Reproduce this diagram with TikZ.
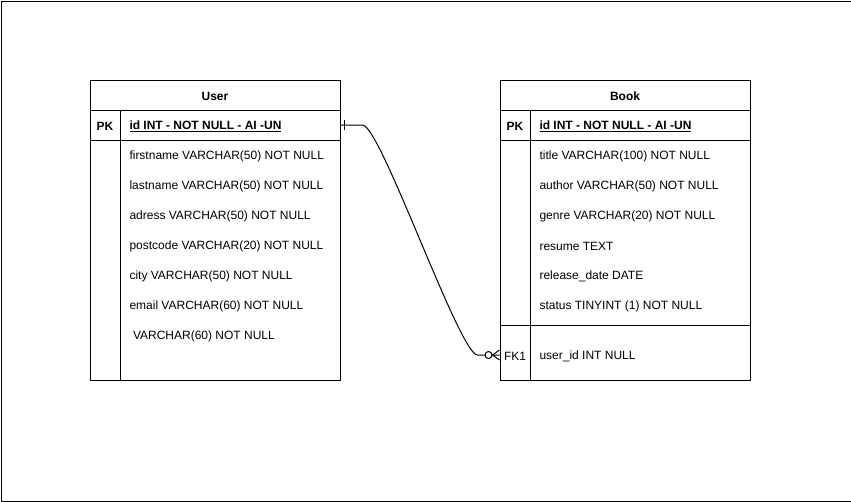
\documentclass[tikz,border=0pt]{standalone}
\usepackage{fontspec}
\setmainfont{Liberation Sans}
\usetikzlibrary{calc}
\begin{document}
\begin{tikzpicture}[x=1pt,y=-1pt,line width=1pt,
  tbl/.style={draw,minimum width=250pt,minimum height=300pt,inner sep=0pt,anchor=north west},
  hdr/.style={inner sep=0pt,yshift=-1pt,font=\fontsize{12}{14}\selectfont\bfseries},
  fld/.style={anchor=west,inner sep=0pt,yshift=-1pt,font=\fontsize{12}{14}\selectfont},
  keyt/.style={inner sep=0pt,yshift=-1pt,font=\fontsize{12}{14}\selectfont\bfseries},
  keyn/.style={inner sep=0pt,yshift=-1pt,font=\fontsize{12}{14}\selectfont},
  rowbox/.style={minimum width=250pt,minimum height=30pt,inner sep=0pt}]
\useasboundingbox (0,0) rectangle (851,501);
\node[draw,minimum width=850pt,minimum height=500pt,anchor=north west,inner sep=0pt] (frame) at (0.5,0.5) {};

% User table
\node[tbl] (user) at (90,80) {};
\draw (90,110) -- (340,110);
\draw (90,140) -- (340,140);
\draw (120,110) -- (120,380);
\node[hdr] (utitle) at (215,95) {User};
\node[rowbox] (upk) at (215,125) {};
\node[keyt] (upkl) at (105,125) {PK};
\node[fld,font=\fontsize{12}{14}\selectfont\bfseries] (uid) at (129,125) {\underline{id INT - NOT NULL - AI -UN}};
\node[fld] (u1) at (129,155) {firstname VARCHAR(50) NOT NULL};
\node[fld] (u2) at (129,185) {lastname VARCHAR(50) NOT NULL};
\node[fld] (u3) at (129,215) {adress VARCHAR(50) NOT NULL};
\node[fld] (u4) at (129,245) {postcode VARCHAR(20) NOT NULL};
\node[fld] (u5) at (129,275) {city VARCHAR(50) NOT NULL};
\node[fld] (u6) at (129,305) {email VARCHAR(60) NOT NULL};
\node[fld] (u7) at (132.5,335) {VARCHAR(60) NOT NULL};

% Book table
\node[tbl] (book) at (500,80) {};
\draw (500,110) -- (750,110);
\draw (500,140) -- (750,140);
\draw (500,325) -- (750,325);
\draw (530,110) -- (530,380);
\node[hdr] (btitle) at (625,95) {Book};
\node[keyt] (bpkl) at (515,125) {PK};
\node[fld,font=\fontsize{12}{14}\selectfont\bfseries] (bid) at (539,125) {\underline{id INT - NOT NULL - AI -UN}};
\node[fld] (b1) at (539,155) {title VARCHAR(100) NOT NULL};
\node[fld] (b2) at (539,185) {author VARCHAR(50) NOT NULL};
\node[fld] (b3) at (539,215) {genre VARCHAR(20) NOT NULL};
\node[fld] (b4) at (539,245) {resume TEXT};
\node[fld] (b5) at (539,275) {release\_date DATE};
\node[fld] (b6) at (539,305) {status TINYINT (1) NOT NULL};
\node[rowbox] (bfk) at (625,355) {};
\node[keyn] (bfkl) at (515,355) {FK1};
\node[fld] (b7) at (539,355) {user\_id INT NULL};

% Relation
\draw (upk.east) -- ++(22,0) .. controls +(18,0) and +(-18,0) .. ($(bfk.west)+(-22,0)$) -- (bfk.west);
\draw ($(upk.east)+(4,-5)$) -- ($(upk.east)+(4,5)$);
\draw[fill=white] ($(bfk.west)+(-11,0)$) circle (3.5);
\draw ($(bfk.west)+(-7,0)$) -- ($(bfk.west)+(0,-5)$);
\draw ($(bfk.west)+(-7,0)$) -- ($(bfk.west)+(0,5)$);
\end{tikzpicture}
\end{document}
